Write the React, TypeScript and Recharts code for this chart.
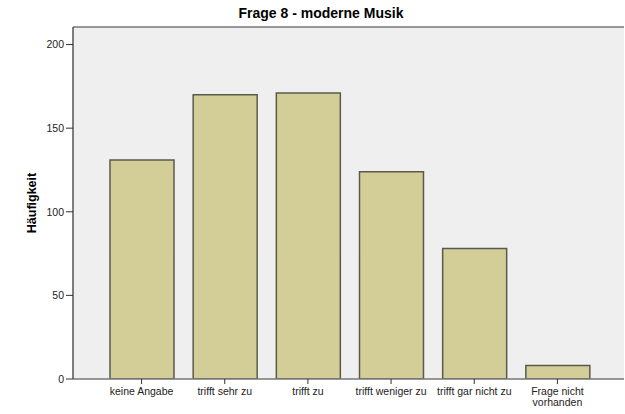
import { Bar, BarChart, CartesianGrid, ReferenceLine, XAxis, YAxis } from "recharts";

const categories = [
  "keine Angabe",
  "trifft sehr zu",
  "trifft zu",
  "trifft weniger zu",
  "trifft gar nicht zu",
  "Frage nicht vorhanden",
];
const counts = [131, 170, 171, 124, 78, 8];
const yTicks = [0, 50, 100, 150, 200];

const data = categories.map((label, i) => ({ label, value: counts[i] }));

const font = "'Liberation Sans', Arial, sans-serif";

function CategoryTick({ x, y, payload }: any) {
  const text: string = payload.value;
  const lines = text === "Frage nicht vorhanden" ? ["Frage nicht", "vorhanden"] : [text];
  return (
    <text x={x} y={y} textAnchor="middle" fontSize={10.5} fontFamily={font} fill="#222">
      {lines.map((line, i) => (
        <tspan key={line} x={x} dy={i === 0 ? 8.5 : 11}>
          {line}
        </tspan>
      ))}
    </text>
  );
}

export default function App() {
  return (
    <div style={{ position: "absolute", left: 0, top: 0, width: 625, height: 414, background: "#fff" }}>
      <div
        style={{
          position: "absolute",
          left: 221,
          width: 200,
          top: 5,
          textAlign: "center",
          fontFamily: font,
          fontWeight: "bold",
          fontSize: 14,
        }}
      >
        Frage 8 - moderne Musik
      </div>
      <BarChart
        width={625}
        height={414}
        data={data}
        margin={{ top: 27, right: 1, bottom: 5, left: 0 }}
      >
        <CartesianGrid fill="#efefef" horizontal={false} vertical={false} />
        <ReferenceLine y={210.5} stroke="#777" strokeWidth={1.5} />
        <XAxis
          dataKey="label"
          height={30}
          interval={0}
          padding={{ left: 27, right: 25 }}
          axisLine={{ stroke: "#777", strokeWidth: 1.5 }}
          tickLine={{ stroke: "#333" }}
          tickSize={5}
          tick={<CategoryTick />}
        />
        <YAxis
          width={73}
          domain={[0, 210.5]}
          ticks={yTicks}
          allowDataOverflow
          axisLine={{ stroke: "#555", strokeWidth: 1.5 }}
          tickLine={{ stroke: "#333" }}
          tickSize={7}
          tick={{ fontSize: 10.5, fontFamily: font, fill: "#222" }}
          label={{
            value: "Häufigkeit",
            angle: -90,
            position: "insideLeft",
            offset: 32,
            style: { fontSize: 12.5, fontWeight: "bold", fontFamily: font, fill: "#000", textAnchor: "middle" },
          }}
        />
        <Bar
          dataKey="value"
          barSize={64}
          fill="#d3ce97"
          stroke="#5a5a4c"
          strokeWidth={1.5}
          isAnimationActive={false}
        />
      </BarChart>
    </div>
  );
}
